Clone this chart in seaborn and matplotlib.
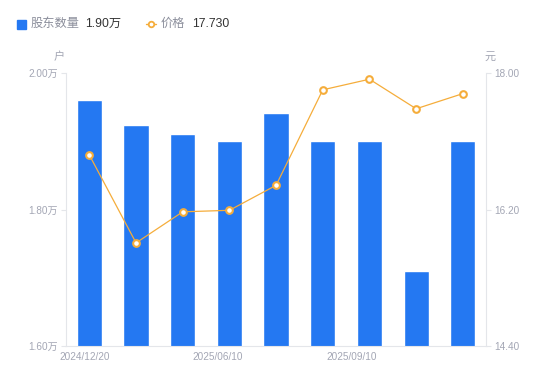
import pandas as pd
import numpy as np
import matplotlib
matplotlib.use("Agg")
import matplotlib.pyplot as plt
import seaborn as sns
from matplotlib.lines import Line2D
from matplotlib.patches import Rectangle

# data
dates = ["2024/12/20", "2025/03/10", "2025/03/31", "2025/06/10", "2025/06/30",
         "2025/08/20", "2025/09/10", "2025/09/30", "2025/10/20"]
holders = [1.96, 1.924, 1.911, 1.90, 1.941, 1.90, 1.90, 1.71, 1.90]   # 万户
price = [16.92, 15.76, 16.17, 16.19, 16.52, 17.78, 17.92, 17.53, 17.73]  # 元
shown_ticks = [0, 3, 6]

sns.set_style("white")
plt.rcParams["font.family"] = ["Liberation Sans", "Noto Sans CJK SC", "DejaVu Sans"]

bar_color = "#2478f2"
line_color = "#f5ad3b"
tick_color = "#a3a6b4"
axis_color = "#e4e6ea"

df = pd.DataFrame({"date": dates, "holders": holders, "price": price, "pos": range(len(dates))})

fig = plt.figure(figsize=(5.5, 3.81), dpi=100)
ax = fig.add_axes([0.12, 0.092, 0.764, 0.716])

sns.barplot(data=df, x="date", y="holders", color=bar_color, width=0.54,
            saturation=1, ax=ax)
ax.set_ylim(1.6, 2.0)
ax.set_xlim(-0.5, len(dates) - 0.5)
ax.set_yticks([1.6, 1.8, 2.0])
ax.set_yticklabels(["1.60万", "1.80万", "2.00万"])
ax.set_xlabel("")
ax.set_ylabel("")

ax2 = ax.twinx()
sns.lineplot(data=df, x="pos", y="price", color=line_color, linewidth=0.9,
             marker="o", markersize=4.8, markerfacecolor="white",
             markeredgecolor=line_color, markeredgewidth=1.5, ax=ax2)
ax2.set_ylim(14.4, 18.0)
ax2.set_yticks([14.4, 16.2, 18.0])
ax2.set_yticklabels(["14.40", "16.20", "18.00"])
ax2.set_xlabel("")
ax2.set_ylabel("")

for a in (ax, ax2):
    for s in a.spines.values():
        s.set_visible(False)
    a.tick_params(axis="both", labelsize=7.2, length=3.5, width=0.8, pad=2.5,
                  colors=axis_color, labelcolor=tick_color)
ax.spines["left"].set_visible(True)
ax.spines["left"].set_color(axis_color)
ax.spines["bottom"].set_visible(True)
ax.spines["bottom"].set_color(axis_color)
ax2.spines["right"].set_visible(True)
ax2.spines["right"].set_color(axis_color)

# x labels sit a bit left of their bars, spread evenly as in the reference
ax.set_xticks([i - 0.1 - 0.047 * i for i in shown_ticks])
ax.set_xticklabels([dates[i] for i in shown_ticks])
ax.tick_params(axis="x", length=0, pad=4)

# unit labels
fig.text(59 / 550, 1 - 57 / 381, "户", color=tick_color, fontsize=8, ha="center", va="center")
fig.text(490 / 550, 1 - 57 / 381, "元", color=tick_color, fontsize=8, ha="center", va="center")

# legend at the top
fig.add_artist(Rectangle((17 / 550, 1 - 29 / 381), 9 / 550, 9 / 381,
                         transform=fig.transFigure, color=bar_color))
fig.text(31 / 550, 1 - 24 / 381, "股东数量", color="#8c8f9c", fontsize=8.8, va="center")
fig.text(85 / 550, 1 - 24 / 381, "1.90万", color="#333333", fontsize=8.8, va="center")
fig.add_artist(Line2D([146 / 550, 156 / 550], [1 - 24 / 381, 1 - 24 / 381],
                      transform=fig.transFigure, color=line_color, linewidth=1))
fig.add_artist(Line2D([151 / 550], [1 - 24 / 381], transform=fig.transFigure,
                      marker="o", markersize=4, markerfacecolor="white",
                      markeredgecolor=line_color, markeredgewidth=1.3))
fig.text(161 / 550, 1 - 24 / 381, "价格", color="#8c8f9c", fontsize=8.8, va="center")
fig.text(192 / 550, 1 - 24 / 381, "17.730", color="#333333", fontsize=8.8, va="center")

fig.savefig("out.png", dpi=100)
